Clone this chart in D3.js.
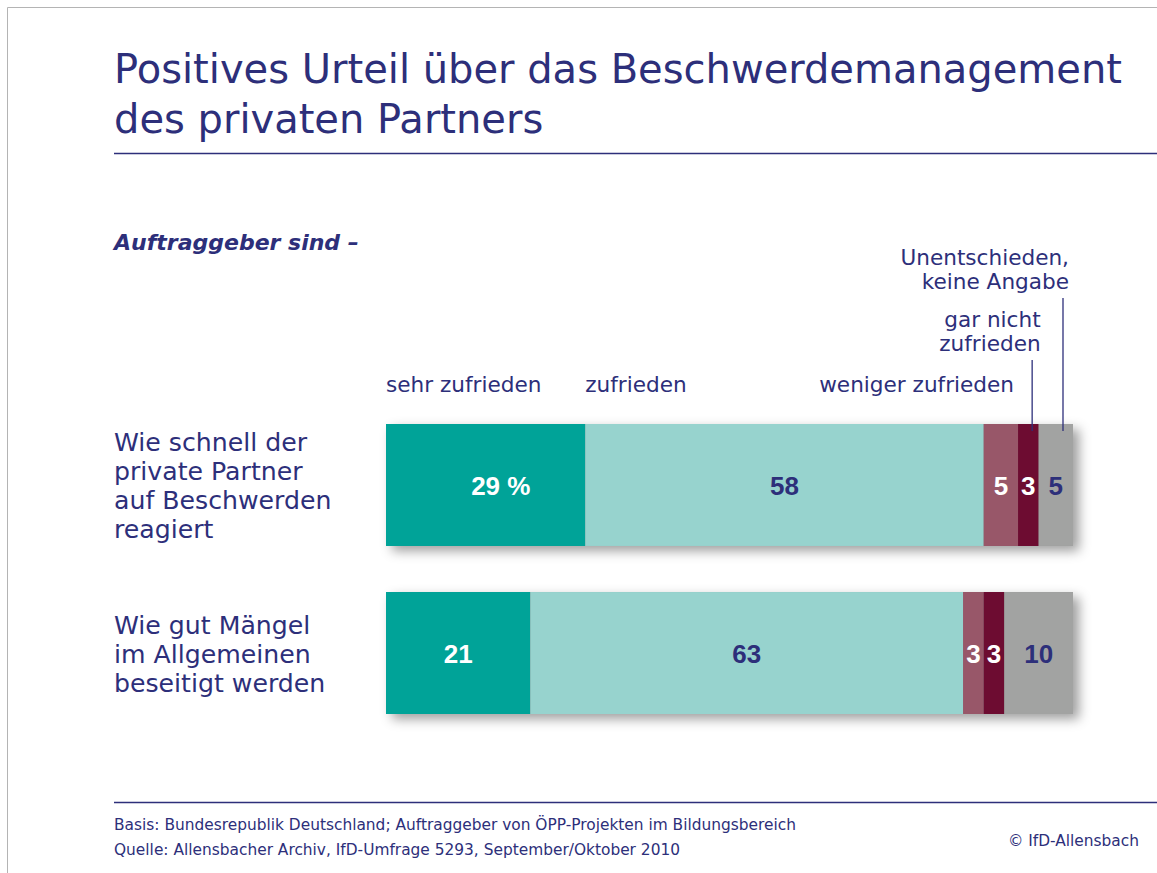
<!DOCTYPE html>
<html>
<head>
<meta charset="utf-8">
<script src="https://cdn.jsdelivr.net/npm/d3@7"></script>
<style>
  body { margin: 0; background: #fff; }
  svg { display: block; font-family: "DejaVu Sans", sans-serif; }
</style>
</head>
<body>
<script>
// values
const categories = ['sehr zufrieden', 'zufrieden', 'weniger zufrieden', 'gar nicht zufrieden', 'Unentschieden, keine Angabe']
const rows = ['Wie schnell der private Partner auf Beschwerden reagiert', 'Wie gut Mängel im Allgemeinen beseitigt werden']
const rowLines = [['Wie schnell der', 'private Partner', 'auf Beschwerden', 'reagiert'], ['Wie gut Mängel', 'im Allgemeinen', 'beseitigt werden']]
const sehrZufrieden = [29, 21]
const zufrieden = [58, 63]
const wenigerZufrieden = [5, 3]
const garNichtZufrieden = [3, 3]
const unentschieden = [5, 10]
const colors = ['#00a398', '#97d3ce', '#985769', '#6d0c31', '#a2a3a2']
const labelColors = ['#ffffff', '#2d2f7a', '#ffffff', '#ffffff', '#2d2f7a']

const navy = '#2d2f7a'
const width = 1157, height = 873

let seriesValues = [sehrZufrieden, zufrieden, wenigerZufrieden, garNichtZufrieden, unentschieden]
let data = rows.map((r, i) => {
  let d = { row: r }
  categories.forEach((c, j) => d[c] = seriesValues[j][i])
  return d
})

let series = d3.stack().keys(categories)(data)

let x = d3.scaleLinear().domain([0, 100]).range([386, 1073])
let y = d3.scaleBand().domain(rows).range([424, 714]).paddingInner(0.274)
let color = d3.scaleOrdinal().domain(categories).range(colors)
let labelColor = d3.scaleOrdinal().domain(categories).range(labelColors)

const svg = d3.select('body').append('svg')
    .attr('width', width)
    .attr('height', height)

let defs = svg.append('defs')
let f = defs.append('filter').attr('id', 'shadow')
    .attr('x', '-5%').attr('y', '-20%').attr('width', '115%').attr('height', '150%')
f.append('feDropShadow')
    .attr('dx', 6).attr('dy', 5)
    .attr('stdDeviation', 6)
    .attr('flood-color', '#000')
    .attr('flood-opacity', 0.38)

// frame
svg.append('path')
    .attr('d', `M7.5,${height}V7.5H${width}`)
    .attr('fill', 'none')
    .attr('stroke', '#b4b4b4')
    .attr('stroke-width', 1)

// title
svg.append('text')
    .attr('fill', navy)
    .style('font-size', '40px')
  .selectAll('tspan')
  .data(['Positives Urteil über das Beschwerdemanagement', 'des privaten Partners'])
  .join('tspan')
    .attr('x', 114)
    .attr('y', (d, i) => 83 + i * 50)
    .text(d => d)

svg.append('line')
    .attr('x1', 114).attr('x2', width)
    .attr('y1', 153.5).attr('y2', 153.5)
    .attr('stroke', navy).attr('stroke-width', 1.3)

svg.append('text')
    .attr('x', 114).attr('y', 250)
    .attr('fill', navy)
    .style('font-size', '22px')
    .style('font-weight', 'bold')
    .style('font-style', 'italic')
    .text('Auftraggeber sind –')

// bar shadows
svg.append('g')
  .selectAll('rect')
  .data(rows)
  .join('rect')
    .attr('x', x(0))
    .attr('y', d => y(d))
    .attr('width', x(100) - x(0))
    .attr('height', y.bandwidth())
    .attr('fill', '#888')
    .attr('filter', 'url(#shadow)')

// bars
svg.append('g')
  .selectAll('g')
  .data(series)
  .join('g')
    .attr('fill', d => color(d.key))
  .selectAll('rect')
  .data(d => d)
  .join('rect')
    .attr('x', d => x(d[0]))
    .attr('y', d => y(d.data.row))
    .attr('width', d => x(d[1]) - x(d[0]))
    .attr('height', y.bandwidth())

// value labels
let labels = svg.append('g')
    .style('font-family', '"Liberation Sans", Arial, sans-serif')
    .style('font-weight', 'bold')
    .style('font-size', '26px')
  .selectAll('g')
  .data(series)
  .join('g')
    .attr('fill', d => labelColor(d.key))

labels.selectAll('text')
  .data(d => d)
  .join('text')
    .attr('x', d => (x(d[0]) + x(d[1])) / 2)
    .attr('y', d => y(d.data.row) + y.bandwidth() / 2 + 10)
    .attr('text-anchor', 'middle')
    .text(d => d[1] - d[0])

// percent sign after the very first value
let first = labels.filter((d, i) => i === 0).select('text')
svg.append('text')
    .attr('x', +first.attr('x') + first.node().getComputedTextLength() / 2)
    .attr('y', first.attr('y'))
    .attr('fill', '#fff')
    .style('font-family', '"Liberation Sans", Arial, sans-serif')
    .style('font-weight', 'bold')
    .style('font-size', '26px')
    .text('\u00a0%')

// row labels
svg.append('g')
    .attr('fill', navy)
    .style('font-size', '25.2px')
  .selectAll('text')
  .data(rows)
  .join('text')
  .selectAll('tspan')
  .data((d, i) => rowLines[i].map((t, k) => ({ row: d, t, k, n: rowLines[i].length })))
  .join('tspan')
    .attr('x', 114)
    .attr('y', d => y(d.row) + y.bandwidth() / 2 + (d.k - (d.n - 1) / 2) * 29 + 10)
    .text(d => d.t)

// category headers
let s0 = series.map(s => s[0])
let headers = [
  { lines: ['sehr zufrieden'], x: x(s0[0][0]), anchor: 'start', y: 392 },
  { lines: ['zufrieden'], x: x(s0[1][0]), anchor: 'start', y: 392 },
  { lines: ['weniger zufrieden'], x: x(s0[2][1]) - 4, anchor: 'end', y: 392 },
  { lines: ['gar nicht', 'zufrieden'], x: x(s0[3][1]) + 2, anchor: 'end', y: 327 },
  { lines: ['Unentschieden,', 'keine Angabe'], x: x(s0[4][1]) - 4, anchor: 'end', y: 265 }
]

svg.append('g')
    .attr('fill', navy)
    .style('font-size', '21.6px')
  .selectAll('text')
  .data(headers)
  .join('text')
    .attr('text-anchor', d => d.anchor)
  .selectAll('tspan')
  .data(d => d.lines.map((t, k) => ({ ...d, t, k })))
  .join('tspan')
    .attr('x', d => d.x)
    .attr('y', d => d.y + d.k * 24)
    .text(d => d.t)

// leader lines for the two narrow categories
let leaders = [
  { x: x(s0[3][1]) - 6.5, y1: 360 },
  { x: x(s0[4][1]) - 10, y1: 298 }
]
svg.append('g')
    .attr('stroke', navy)
    .attr('stroke-width', 1.3)
  .selectAll('line')
  .data(leaders)
  .join('line')
    .attr('x1', d => d.x).attr('x2', d => d.x)
    .attr('y1', d => d.y1).attr('y2', y(rows[0]) + 7)

// footer
svg.append('line')
    .attr('x1', 114).attr('x2', width)
    .attr('y1', 802.5).attr('y2', 802.5)
    .attr('stroke', navy).attr('stroke-width', 1.3)

svg.append('text')
    .attr('fill', navy)
    .style('font-size', '15.4px')
  .selectAll('tspan')
  .data(['Basis: Bundesrepublik Deutschland; Auftraggeber von ÖPP-Projekten im Bildungsbereich',
         'Quelle: Allensbacher Archiv, IfD-Umfrage 5293, September/Oktober 2010'])
  .join('tspan')
    .attr('x', 114)
    .attr('y', (d, i) => 830 + i * 25)
    .text(d => d)

svg.append('text')
    .attr('x', 1139).attr('y', 846)
    .attr('text-anchor', 'end')
    .attr('fill', navy)
    .style('font-size', '15.4px')
    .text('© IfD-Allensbach')
</script>
</body>
</html>
